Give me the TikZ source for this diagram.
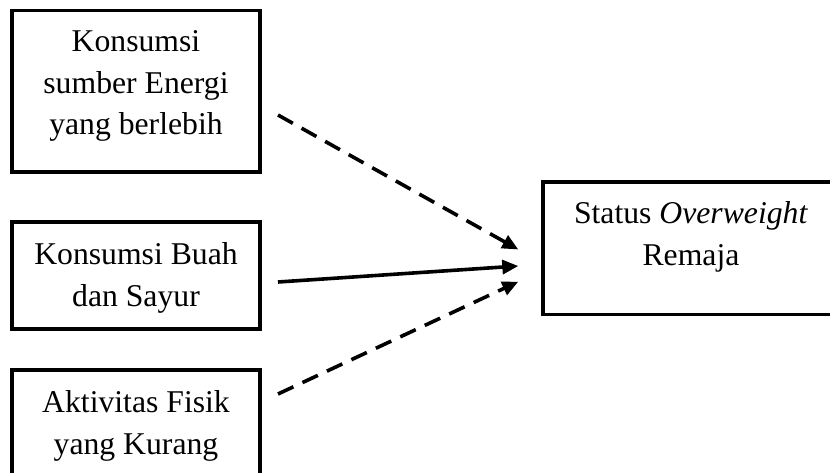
\documentclass[tikz,border=0pt]{standalone}
\usepackage{fontspec}
\setmainfont{Liberation Serif}
\usetikzlibrary{arrows.meta,calc}
\tikzset{
  box/.style={draw=black, line width=3.8pt, inner sep=0pt, outer sep=0pt, rectangle},
  txt/.style={align=center, inner sep=0pt, font=\fontsize{31.7}{41.7}\selectfont},
  link/.style={line width=3.6pt, -{Triangle[length=16pt,width=14pt]}},
  dashlink/.style={link, dash pattern=on 17pt off 10pt}
}
\begin{document}
\begin{tikzpicture}[x=1pt,y=-1pt]
\useasboundingbox (0,0) rectangle (830,473);
\clip (0,0) rectangle (830,473);
% boxes
\node[box, minimum width=248pt, minimum height=161.5pt] (b1) at (136,91.25) {};
\node[box, minimum width=248pt, minimum height=107pt] (b2) at (136,275.5) {};
\node[box, minimum width=248pt, minimum height=114pt] (b3) at (136,427) {};
\node[box, minimum width=296pt, minimum height=132.5pt] (r) at (691,248.25) {};
% texts
\node[txt] (t1) at (136,86) {Konsumsi\\sumber Energi\\yang berlebih};
\node[txt] (t2) at (136,278.1) {Konsumsi Buah\\dan Sayur};
\node[txt] (t3) at (136,426) {Aktivitas Fisik\\yang Kurang};
\node[txt] (t4) at (691,236.6) {Status \textit{Overweight}\\Remaja};
% connector ends
\coordinate (s1) at ($(b1.east)+(18,23.75)$);
\coordinate (s2) at ($(b2.east)+(18,6.5)$);
\coordinate (s3) at ($(b3.east)+(18,-33)$);
\coordinate (e1) at ($(r.west)+(-24.7,1.25)$);
\coordinate (e2) at ($(r.west)+(-24.7,17.75)$);
\coordinate (e3) at ($(r.west)+(-24.7,33.45)$);
\draw[dashlink] (s1) -- (e1);
\draw[link] (s2) -- (e2);
\draw[dashlink] (s3) -- (e3);
\end{tikzpicture}
\end{document}
